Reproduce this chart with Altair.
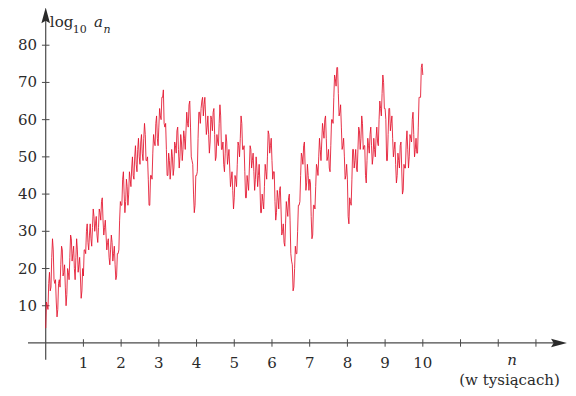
import altair as alt
import pandas as pd

# ---- data (n in thousands, log10 a_n) ----
# values at n = 0.00, 0.04, 0.08, ... 10.00
log_an_main = [
    4, 10, 16, 14, 23, 25, 16, 11, 9, 17, 21, 25, 19, 15, 13, 19, 23, 28, 24, 20, 23, 25, 21, 18, 14,
    18, 25, 30, 27, 29, 28, 31, 34, 32, 29, 31, 35, 38, 33, 31, 29, 27, 23, 25, 27, 24, 21, 18, 24, 33,
    37, 44, 40, 38, 42, 40, 44, 47, 45, 50, 48, 52, 50, 54, 51, 55, 56, 49, 44, 37, 45, 51, 54, 59, 55,
    58, 61, 66, 68, 58, 52, 45, 49, 47, 50, 47, 53, 57, 52, 50, 54, 52, 55, 57, 59, 64, 58, 49, 40, 37,
    45, 55, 62, 63, 66, 64, 61, 58, 56, 54, 60, 62, 56, 50, 54, 59, 61, 52, 48, 51, 54, 50, 47, 44, 41,
    39, 44, 48, 53, 55, 59, 52, 46, 39, 43, 47, 52, 49, 46, 44, 47, 45, 43, 35, 38, 42, 46, 50, 56, 53,
    49, 46, 38, 35, 39, 41, 36, 30, 27, 32, 36, 39, 33, 22, 14, 20, 24, 30, 37, 45, 50, 53, 47, 43, 45,
    44, 34, 29, 37, 42, 47, 50, 52, 54, 57, 60, 55, 50, 47, 53, 60, 66, 71, 74, 67, 62, 58, 53, 50, 45,
    44, 32, 38, 44, 52, 49, 47, 52, 57, 55, 59, 53, 45, 49, 53, 56, 53, 50, 52, 55, 54, 60, 63, 67, 70,
    63, 49, 56, 63, 59, 55, 52, 48, 45, 49, 53, 47, 41, 47, 54, 52, 50, 55, 60, 56, 52, 51, 58, 66, 74,
    72,
]
# the fine jagged values in between (n = 0.02, 0.06, ... 9.98)
log_an_between = [
    11, 9, 19, 15, 28, 17, 17, 7, 16, 15, 26, 18, 21, 10, 20, 17, 29, 22, 26, 17, 28, 19, 23, 12, 20,
    25, 24, 32, 25, 32, 26, 36, 30, 34, 27, 36, 33, 39, 29, 33, 25, 28, 21, 29, 22, 26, 17, 24, 25, 38,
    37, 46, 35, 44, 37, 46, 42, 50, 44, 53, 46, 55, 48, 56, 49, 59, 49, 50, 37, 45, 44, 56, 53, 61, 53,
    63, 60, 66, 59, 59, 45, 51, 44, 52, 45, 54, 51, 58, 47, 56, 49, 57, 52, 62, 58, 65, 50, 48, 35, 45,
    46, 62, 59, 65, 61, 66, 56, 61, 51, 61, 57, 63, 49, 56, 53, 64, 52, 54, 46, 56, 48, 52, 42, 46, 36,
    45, 42, 54, 50, 61, 52, 53, 39, 45, 41, 53, 47, 51, 41, 50, 42, 48, 35, 40, 36, 48, 44, 57, 51, 55,
    44, 46, 33, 41, 36, 42, 29, 32, 26, 38, 34, 40, 24, 21, 15, 26, 24, 37, 38, 51, 48, 54, 41, 48, 41,
    43, 28, 37, 36, 48, 45, 55, 49, 59, 55, 61, 49, 52, 46, 60, 59, 72, 69, 74, 61, 64, 52, 55, 44, 48,
    34, 39, 37, 52, 47, 52, 46, 58, 52, 61, 52, 53, 43, 55, 51, 58, 48, 55, 50, 58, 53, 65, 61, 72, 63,
    60, 49, 63, 57, 61, 50, 54, 43, 51, 47, 54, 40, 48, 47, 57, 47, 56, 54, 62, 50, 55, 51, 66, 66, 75,
]

log_an = [v for pair in zip(log_an_main, log_an_between) for v in pair] + [log_an_main[-1]]
n_thousands = [round(i * 0.02, 2) for i in range(len(log_an))]

y_ticks = [10, 20, 30, 40, 50, 60, 70, 80]
x_ticks = [1, 2, 3, 4, 5, 6, 7, 8, 9, 10, 11, 12, 13]
x_tick_labels = ["1", "2", "3", "4", "5", "6", "7", "8", "9", "10", "", "", ""]

FONT = "DejaVu Serif"
AXIS_COLOR = "#4a4a4a"
ARROW_COLOR = "#2a2a2a"
TEXT_COLOR = "#2a2a2a"
LINE_COLOR = "#e3122c"

xs = alt.Scale(domain=[-1, 13.85], nice=False, zero=False)
ys = alt.Scale(domain=[-12.1, 90], nice=False, zero=False)

def X(f):
    return alt.X(f, type="quantitative", scale=xs, axis=None)

def Y(f):
    return alt.Y(f, type="quantitative", scale=ys, axis=None)

series = pd.DataFrame({"n": n_thousands, "v": log_an})

# axes lines
axes_df = pd.DataFrame({
    "x": [-0.47, 0.0],
    "x2": [13.5, 0.0],
    "y": [0.0, -4.5],
    "y2": [0.0, 87.0],
})
axes = alt.Chart(axes_df).mark_rule(color=AXIS_COLOR, strokeWidth=1.2).encode(
    x=X("x"), x2="x2", y=Y("y"), y2="y2"
)

# tick marks
yt = pd.DataFrame({"x": [-0.1] * len(y_ticks), "x2": [0.1] * len(y_ticks), "y": y_ticks})
xt = pd.DataFrame({"x": x_ticks, "y": [-1.0] * len(x_ticks), "y2": [1.0] * len(x_ticks)})
yticks = alt.Chart(yt).mark_rule(color=AXIS_COLOR, strokeWidth=1).encode(
    x=X("x"), x2="x2", y=Y("y")
)
xticks = alt.Chart(xt).mark_rule(color=AXIS_COLOR, strokeWidth=1).encode(
    x=X("x"), y=Y("y"), y2="y2"
)

# arrow heads
up = alt.Chart(pd.DataFrame({"x": [0.0], "y": [87.4]})).mark_point(
    shape="M0,-1L0.42,0.55L0,0.3L-0.42,0.55Z", size=420, filled=True,
    color=ARROW_COLOR, opacity=1, strokeWidth=0
).encode(x=X("x"), y=Y("y"))
right = alt.Chart(pd.DataFrame({"x": [13.55], "y": [0.0]})).mark_point(
    shape="M1,0L-0.55,0.42L-0.3,0L-0.55,-0.42Z", size=420, filled=True,
    color=ARROW_COLOR, opacity=1, strokeWidth=0
).encode(x=X("x"), y=Y("y"))

# data line
line = alt.Chart(series).mark_line(color=LINE_COLOR, strokeWidth=0.9, opacity=0.95).encode(
    x=X("n"), y=Y("v")
)

# tick labels
ylab = alt.Chart(pd.DataFrame({"x": [-0.23] * len(y_ticks), "y": y_ticks,
                               "t": [str(v) for v in y_ticks]})).mark_text(
    font=FONT, fontSize=15, color=TEXT_COLOR, align="right", baseline="middle"
).encode(x=X("x"), y=Y("y"), text="t:N")
xlab = alt.Chart(pd.DataFrame({"x": x_ticks, "y": [-6.7] * len(x_ticks),
                               "t": x_tick_labels})).mark_text(
    font=FONT, fontSize=15, color=TEXT_COLOR, align="center", baseline="alphabetic"
).encode(x=X("x"), y=Y("y"), text="t:N")

# axis titles
def label(txt, x, y, size, style="normal", align="left"):
    return alt.Chart(pd.DataFrame({"x": [x], "y": [y], "t": [txt]})).mark_text(
        font=FONT, fontSize=size, fontStyle=style, color=TEXT_COLOR,
        align=align, baseline="alphabetic"
    ).encode(x=X("x"), y=Y("y"), text="t:N")

titles = [
    label("log", 0.11, 84.9, 15),
    label("10", 0.72, 83.4, 11),
    label("a", 1.28, 84.9, 15, "italic"),
    label("n", 1.53, 83.4, 11, "italic"),
    label("n", 12.37, -5.85, 15, "italic", "center"),
    label("(w tysiącach)", 12.3, -11.3, 15, "normal", "center"),
]

chart = alt.layer(axes, yticks, xticks, up, right, line, ylab, xlab, *titles).properties(
    width=560, height=380, padding=0, background="white",
    autosize=alt.AutoSizeParams(type="none")
).configure_view(stroke=None)

chart.save("out.html", embed_options={"renderer": "svg", "actions": False})
